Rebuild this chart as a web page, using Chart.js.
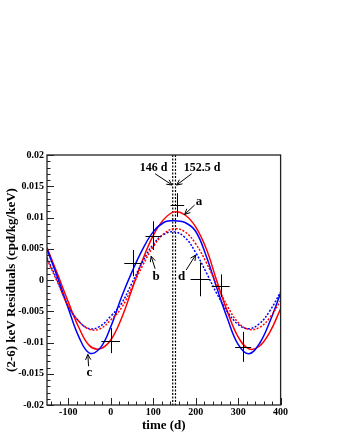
<!DOCTYPE html>
<html>
<head>
<meta charset="utf-8">
<script src="https://cdn.jsdelivr.net/npm/chart.js@4.4.1/dist/chart.umd.min.js"></script>
<style>
  html, body { margin: 0; padding: 0; background: #fff; }
</style>
</head>
<body>
<canvas id="residualsChart" width="337" height="436"></canvas>
<script>
// Sampling times of the expected curves (d)
const times = [-150, -125, -100, -75, -50, -25, 0, 25, 50, 75, 100, 125, 150, 175, 200, 225, 250, 275, 300, 325, 350, 375, 400];

// Expected curves (cpd/kg/keV)
const curveA = [0.0052, 0.0009, -0.0035, -0.0076, -0.0105, -0.0110, -0.0096, -0.0062, -0.0015, 0.0032, 0.0071, 0.0097, 0.0109, 0.0104, 0.0085, 0.0050, -0.0002, -0.0051, -0.0091, -0.0110, -0.0106, -0.0083, -0.0046];
const curveB = [0.0033, -0.0004, -0.0042, -0.0066, -0.0079, -0.0078, -0.0064, -0.0045, -0.0012, 0.0023, 0.0053, 0.0074, 0.0082, 0.0077, 0.0058, 0.0028, -0.0008, -0.0042, -0.0068, -0.0079, -0.0076, -0.0060, -0.0033];
const curveC = [0.0049, 0.0004, -0.0045, -0.0091, -0.0117, -0.0109, -0.0075, -0.0028, 0.0013, 0.0049, 0.0077, 0.0092, 0.0095, 0.0092, 0.0078, 0.0038, -0.0013, -0.0062, -0.0103, -0.0118, -0.0102, -0.0066, -0.0021];
const curveD = [0.0036, -0.0002, -0.0042, -0.0066, -0.0078, -0.0074, -0.0058, -0.0038, -0.0005, 0.0029, 0.0057, 0.0073, 0.0077, 0.0068, 0.0044, 0.0012, -0.0022, -0.0051, -0.0071, -0.0078, -0.0070, -0.0049, -0.0019];

// Measured residuals with errors
const pointTimes = [0, 52, 100, 157, 210, 259, 312];
const pointValues = [-0.0097, 0.0027, 0.0071, 0.0120, 0.0001, -0.0009, -0.0107];
const pointTimeErr = [22, 20, 18, 16, 22, 21, 19];
const pointValueErr = [0.0020, 0.0021, 0.0023, 0.0019, 0.0027, 0.0018, 0.0024];

// Phases marked with vertical lines (d)
const phaseLines = [146, 152.5];

// Tick labels
const xTicks = [-100, 0, 100, 200, 300, 400];
const yTicks = [-0.02, -0.015, -0.01, -0.005, 0, 0.005, 0.01, 0.015, 0.02];

const FONT = '"Liberation Serif", "DejaVu Serif", serif';

// Labels and arrows, placed in data coordinates
const notes = [
    { text: '146 d', t: 101, v: 0.0179, size: 12 },
    { text: '152.5 d', t: 215, v: 0.0179, size: 12 },
    { text: 'a', t: 208, v: 0.0126, size: 13 },
    { text: 'b', t: 107, v: 0.0005, size: 13 },
    { text: 'c', t: -50, v: -0.0149, size: 13 },
    { text: 'd', t: 167, v: 0.0005, size: 13 }
];
const arrows = [
    { from: [104.6, 0.0170], to: [144.6, 0.0152] },
    { from: [190.6, 0.0170], to: [155.2, 0.0152] },
    { from: [197.6, 0.0120], to: [174.1, 0.0105] },
    { from: [104.6, 0.0018], to: [95.2, 0.0038] },
    { from: [-52.1, -0.0138], to: [-53.9, -0.0119] },
    { from: [177.6, 0.0016], to: [200, 0.0040] }
];

const toPoints = (values) => times.map((t, i) => ({ x: t, y: values[i] }));

const fmtTick = (v) => String(parseFloat(Number(v).toFixed(3)));

function drawArrow(ctx, x1, y1, x2, y2) {
    const ang = Math.atan2(y2 - y1, x2 - x1);
    const head = 6;
    ctx.beginPath();
    ctx.moveTo(x1, y1);
    ctx.lineTo(x2, y2);
    ctx.moveTo(x2 - head * Math.cos(ang - 0.45), y2 - head * Math.sin(ang - 0.45));
    ctx.lineTo(x2, y2);
    ctx.lineTo(x2 - head * Math.cos(ang + 0.45), y2 - head * Math.sin(ang + 0.45));
    ctx.stroke();
}

// Phase lines behind the curves
const phasePlugin = {
    id: 'phaseLines',
    beforeDatasetsDraw(chart) {
        const { ctx, chartArea, scales: { x } } = chart;
        ctx.save();
        ctx.strokeStyle = '#000';
        ctx.lineWidth = 1.2;
        ctx.setLineDash([2, 1.5]);
        phaseLines.forEach(t => {
            const px = x.getPixelForValue(t);
            ctx.beginPath();
            ctx.moveTo(px, chartArea.top);
            ctx.lineTo(px, chartArea.bottom);
            ctx.stroke();
        });
        ctx.restore();
    }
};

// Error bars, frame, inner ticks and annotations
const decorPlugin = {
    id: 'decor',
    afterDatasetsDraw(chart) {
        const { ctx, chartArea, scales: { x, y } } = chart;
        ctx.save();

        // error crosses
        ctx.strokeStyle = '#000';
        ctx.lineWidth = 1;
        pointTimes.forEach((t, i) => {
            const px = Math.round(x.getPixelForValue(t)) + 0.5;
            const py = Math.round(y.getPixelForValue(pointValues[i])) + 0.5;
            const x1 = x.getPixelForValue(t - pointTimeErr[i]);
            const x2 = x.getPixelForValue(t + pointTimeErr[i]);
            const y1 = y.getPixelForValue(pointValues[i] - pointValueErr[i]);
            const y2 = y.getPixelForValue(pointValues[i] + pointValueErr[i]);
            ctx.beginPath();
            ctx.moveTo(x1, py);
            ctx.lineTo(x2, py);
            ctx.moveTo(px, y1);
            ctx.lineTo(px, y2);
            ctx.stroke();
        });

        // frame
        ctx.strokeStyle = '#222';
        ctx.lineWidth = 1.3;
        ctx.strokeRect(chartArea.left, chartArea.top,
            chartArea.right - chartArea.left, chartArea.bottom - chartArea.top);

        // ticks on left and bottom, drawn inside
        ctx.lineWidth = 1;
        ctx.beginPath();
        for (let k = -7; k <= 20; k++) {
            const v = k * 20;
            const px = Math.round(x.getPixelForValue(v)) + 0.5;
            const len = v % 100 === 0 ? 7 : 3.5;
            ctx.moveTo(px, chartArea.bottom);
            ctx.lineTo(px, chartArea.bottom - len);
        }
        for (let k = -20; k <= 20; k++) {
            const py = Math.round(y.getPixelForValue(k / 1000)) + 0.5;
            const len = k % 5 === 0 ? 7 : 3.5;
            ctx.moveTo(chartArea.left, py);
            ctx.lineTo(chartArea.left + len, py);
        }
        ctx.stroke();

        // labels
        ctx.fillStyle = '#000';
        ctx.textAlign = 'center';
        ctx.textBaseline = 'middle';
        notes.forEach(n => {
            ctx.font = `bold ${n.size}px ${FONT}`;
            ctx.fillText(n.text, x.getPixelForValue(n.t), y.getPixelForValue(n.v));
        });

        // arrows
        ctx.strokeStyle = '#000';
        ctx.lineWidth = 1;
        arrows.forEach(a => {
            drawArrow(ctx,
                x.getPixelForValue(a.from[0]), y.getPixelForValue(a.from[1]),
                x.getPixelForValue(a.to[0]), y.getPixelForValue(a.to[1]));
        });

        ctx.restore();
    }
};

const lineSet = (values, color, dashed) => ({
    data: toPoints(values),
    showLine: true,
    borderColor: color,
    borderWidth: 1.5,
    borderDash: dashed ? [2, 1.6] : [],
    pointRadius: 0,
    tension: 0.4,
    fill: false
});

const ctx = document.getElementById('residualsChart').getContext('2d');
new Chart(ctx, {
    type: 'scatter',
    data: {
        datasets: [
            lineSet(curveB, '#ff0000', true),
            lineSet(curveD, '#0000ff', true),
            lineSet(curveC, '#0000ff', false),
            lineSet(curveA, '#ff0000', false)
        ]
    },
    options: {
        responsive: false,
        animation: false,
        devicePixelRatio: 1,
        layout: { padding: { top: 155, right: 56.4, left: 0, bottom: 0 } },
        plugins: {
            legend: { display: false },
            tooltip: { enabled: false }
        },
        scales: {
            x: {
                type: 'linear',
                min: -150,
                max: 400,
                afterBuildTicks: (scale) => { scale.ticks = xTicks.map(v => ({ value: v })); },
                afterFit: (scale) => { scale.height = 31; },
                grid: { display: false, drawTicks: false },
                border: { display: false },
                ticks: {
                    autoSkip: false,
                    maxRotation: 0,
                    padding: 1,
                    color: '#000',
                    font: { family: FONT, size: 10, weight: 'bold' }
                },
                title: {
                    display: true,
                    text: 'time (d)',
                    color: '#000',
                    padding: { top: 0, bottom: 3 },
                    font: { family: FONT, size: 13, weight: 'bold' }
                }
            },
            y: {
                min: -0.02,
                max: 0.02,
                afterBuildTicks: (scale) => { scale.ticks = yTicks.map(v => ({ value: v })); },
                afterFit: (scale) => { scale.width = 47; },
                grid: { display: false, drawTicks: false },
                border: { display: false },
                ticks: {
                    autoSkip: false,
                    padding: 3,
                    color: '#000',
                    font: { family: FONT, size: 10, weight: 'bold' },
                    callback: (v) => fmtTick(v)
                },
                title: {
                    display: true,
                    text: '(2-6) keV Residuals (cpd/kg/keV)',
                    color: '#000',
                    padding: { top: 4, bottom: 0 },
                    font: { family: FONT, size: 13, weight: 'bold' }
                }
            }
        }
    },
    plugins: [phasePlugin, decorPlugin]
});
</script>
</body>
</html>
